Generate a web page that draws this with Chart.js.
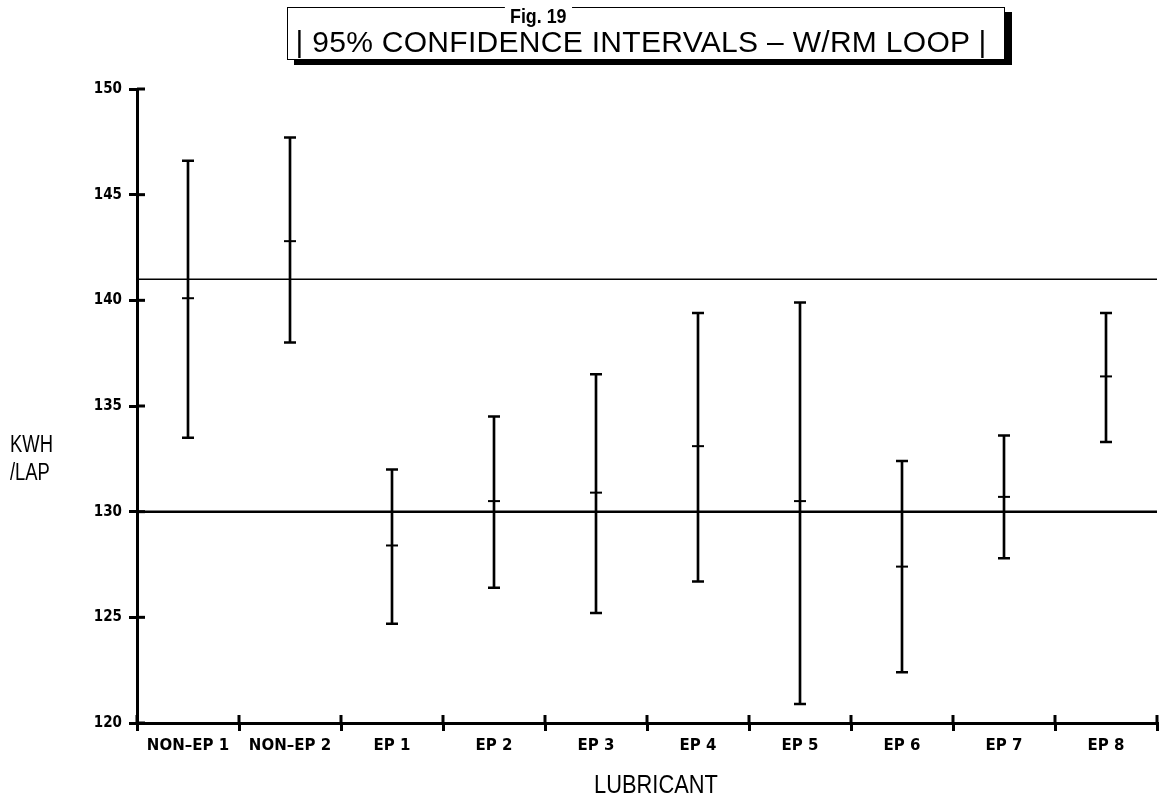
<!DOCTYPE html>
<html lang="en">
<head>
  <meta charset="UTF-8">
  <title>Fig. 19 - 95% Confidence Intervals - W/RM Loop</title>
  <style>
    body { margin: 0; background: #fff; }
    #wrap { position: relative; width: 1159px; height: 807px; }
    canvas { position: absolute; left: 0; top: 0; }
    .box { position: absolute; left: 287px; top: 7px; width: 716px; height: 51px;
           border: 1.5px solid #000; box-shadow: 7px 5px 0 #000; background: #fff; }
    .fig { position: absolute; left: 488px; top: 5px; width: 100px; text-align: center;
           font: bold 21px "Liberation Sans", Arial, sans-serif; line-height: 22px;
           color: #000; }
    .fig span { display: inline-block; background: #fff; padding: 0 6px; transform: scaleX(0.85); }
    .title { position: absolute; left: 283px; top: 27px; width: 716px; text-align: center;
             font: 30px "Liberation Sans", Arial, sans-serif; line-height: 30px; letter-spacing: 0.3px;
             color: #000; white-space: nowrap; }
    .ylab { position: absolute; left: 10px; top: 430px; transform-origin: 0 0; transform: scaleX(0.8);
            font: 23px "Liberation Sans", Arial, sans-serif; line-height: 28px; color: #000; }
    .xlab { position: absolute; left: 556px; top: 771px; width: 200px; text-align: center;
            transform: scaleX(0.84);
            font: 26px "Liberation Sans", Arial, sans-serif; line-height: 26px; color: #000; }
  </style>
</head>
<body>
  <div id="wrap">
    <canvas id="chart" width="1159" height="807"></canvas>
    <div class="box"></div>
    <div class="fig"><span>Fig. 19</span></div>
    <div class="title">| 95% CONFIDENCE INTERVALS – W/RM LOOP |</div>
    <div class="ylab">KWH<br>/LAP</div>
    <div class="xlab">LUBRICANT</div>
  </div>

  <script src="https://cdn.jsdelivr.net/npm/chart.js"></script>
  <script>
    // data
    const lubricants = ['NON–EP 1', 'NON–EP 2', 'EP 1', 'EP 2', 'EP 3', 'EP 4', 'EP 5', 'EP 6', 'EP 7', 'EP 8'];
    const upper = [146.6, 147.7, 132.0, 134.5, 136.5, 139.4, 139.9, 132.4, 133.6, 139.4];
    const means = [140.1, 142.8, 128.4, 130.5, 130.9, 133.1, 130.5, 127.4, 130.7, 136.4];
    const lower = [133.5, 138.0, 124.7, 126.4, 125.2, 126.7, 120.9, 122.4, 127.8, 133.3];
    const refLines = [141, 130];
    const refWidths = [1.5, 2.5];
    const yTicks = [120, 125, 130, 135, 140, 145, 150];

    // horizontal reference lines + inner half of the axis tick marks
    const extras = {
      id: 'extras',
      beforeDatasetsDraw(chart) {
        const { ctx, chartArea: a, scales: { x, y } } = chart;
        ctx.save();
        ctx.strokeStyle = '#000';
        refLines.forEach((v, i) => {
          const py = y.getPixelForValue(v);
          ctx.lineWidth = refWidths[i];
          ctx.beginPath();
          ctx.moveTo(a.left, py);
          ctx.lineTo(a.right, py);
          ctx.stroke();
        });
        ctx.lineWidth = 3;
        yTicks.forEach(v => {
          const py = y.getPixelForValue(v);
          ctx.beginPath();
          ctx.moveTo(a.left, py);
          ctx.lineTo(a.left + 8, py);
          ctx.stroke();
        });
        for (let i = 0; i <= lubricants.length; i++) {
          let px;
          if (i === 0) px = a.left;
          else if (i === lubricants.length) px = a.right;
          else px = (x.getPixelForValue(i - 1) + x.getPixelForValue(i)) / 2;
          ctx.beginPath();
          ctx.moveTo(px, a.bottom);
          ctx.lineTo(px, a.bottom - 8);
          ctx.stroke();
        }
        ctx.restore();
      }
    };

    const markStyle = {
      type: 'line', showLine: false, pointStyle: 'line',
      borderColor: '#000', backgroundColor: '#000'
    };

    new Chart(document.getElementById('chart'), {
      type: 'bar',
      data: {
        labels: lubricants,
        datasets: [
          { data: lower.map((l, i) => [l, upper[i]]), backgroundColor: '#000',
            barThickness: 2, borderWidth: 0, grouped: false },
          { ...markStyle, data: upper, pointRadius: 6, pointBorderWidth: 2.5 },
          { ...markStyle, data: lower, pointRadius: 6, pointBorderWidth: 2.5 },
          { ...markStyle, data: means, pointRadius: 6, pointBorderWidth: 2 }
        ]
      },
      options: {
        responsive: false,
        animation: false,
        events: [],
        layout: { autoPadding: false, padding: { top: 89, right: 2, left: 0, bottom: 0 } },
        plugins: { legend: { display: false }, tooltip: { enabled: false }, title: { display: false } },
        scales: {
          x: {
            offset: true,
            grid: { offset: true, drawOnChartArea: false, tickLength: 8, color: '#000', lineWidth: 3 },
            border: { display: true, color: '#000', width: 3 },
            ticks: { color: '#000', padding: 6, maxRotation: 0,
                     font: { family: "'DejaVu Sans', sans-serif", weight: 'bold', size: 15 } },
            afterFit(s) { s.height = 84; s.paddingLeft = 0; s.paddingRight = 0; }
          },
          y: {
            min: 120, max: 150,
            afterBuildTicks(s) { s.ticks = yTicks.map(v => ({ value: v })); },
            grid: { drawOnChartArea: false, tickLength: 8, color: '#000', lineWidth: 3 },
            border: { display: true, color: '#000', width: 3 },
            ticks: { color: '#000', padding: 7,
                     font: { family: "'DejaVu Sans Condensed', 'DejaVu Sans', sans-serif", weight: 'bold', size: 15 } },
            afterFit(s) { s.width = 137; s.paddingTop = 0; s.paddingBottom = 0; }
          }
        }
      },
      plugins: [extras]
    });
  </script>
</body>
</html>
